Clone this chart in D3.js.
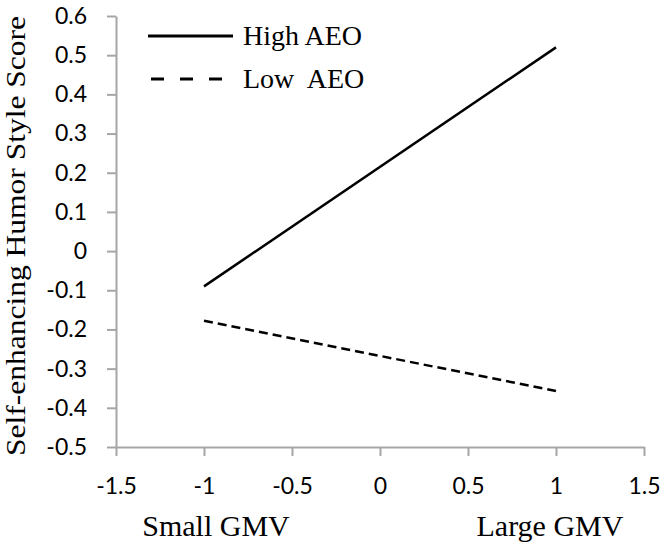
<!DOCTYPE html>
<html>
<head>
<meta charset="utf-8">
<script src="https://cdn.jsdelivr.net/npm/d3@7"></script>
<style>
html,body{margin:0;padding:0;background:#fff;}
svg{display:block;}
</style>
</head>
<body>
<script>
const xValues = [-1, 1];
const highAEO = [-0.09, 0.52];
const lowAEO = [-0.178, -0.357];
const seriesNames = ["High AEO", "Low  AEO"];
const xTicks = [-1.5, -1, -0.5, 0, 0.5, 1, 1.5];
const yTicks = [-0.5, -0.4, -0.3, -0.2, -0.1, 0, 0.1, 0.2, 0.3, 0.4, 0.5, 0.6];
const xCatValues = [-1, 1];
const xCatLabels = ["Small GMV", "Large GMV"];
const yTitle = "Self-enhancing Humor Style Score";

const W = 666, H = 550;
const svg = d3.select("body").append("svg").attr("width", W).attr("height", H);

const x = d3.scaleLinear().domain([-1.5, 1.5]).range([116, 644]);
const y = d3.scaleLinear().domain([-0.5, 0.6]).range([447, 16]);

const axisColor = "#a6a6a6";
const tickFont = "Lato, 'Open Sans', sans-serif";
const serif = "'Liberation Serif', 'DejaVu Serif', serif";
const fmt = d => String(Math.round(d * 10) / 10);

// X axis
const gx = svg.append("g").attr("transform", `translate(0,${y(-0.5)})`)
  .call(d3.axisBottom(x).tickValues(xTicks).tickSize(9).tickSizeOuter(0).tickPadding(22)
    .tickFormat(fmt));
gx.select(".domain").attr("stroke", axisColor).attr("stroke-width", 2);
gx.selectAll(".tick line").attr("stroke", axisColor).attr("stroke-width", 2);
gx.selectAll(".tick text").attr("font-family", tickFont).attr("font-size", 23).attr("fill", "#000");

// Y axis
const gy = svg.append("g").attr("transform", `translate(${x(-1.5)},0)`)
  .call(d3.axisLeft(y).tickValues(yTicks).tickSize(9).tickSizeOuter(0).tickPadding(20)
    .tickFormat(fmt));
gy.select(".domain").attr("stroke", axisColor).attr("stroke-width", 2);
gy.selectAll(".tick line").attr("stroke", axisColor).attr("stroke-width", 2);
gy.selectAll(".tick text").attr("font-family", tickFont).attr("font-size", 23).attr("fill", "#000");

// Category labels under x axis
const catShift = [12, -6];
svg.selectAll(".cat").data(xCatLabels).enter().append("text")
  .attr("x", (d, i) => x(xCatValues[i]) + catShift[i]).attr("y", 536)
  .attr("text-anchor", "middle")
  .attr("font-family", serif).attr("font-size", 30)
  .text(d => d);

// Y title
svg.append("text")
  .attr("transform", `translate(25,236) rotate(-90)`)
  .attr("text-anchor", "middle")
  .attr("font-family", serif).attr("font-size", 27)
  .attr("textLength", 440).attr("lengthAdjust", "spacingAndGlyphs")
  .text(yTitle);

const line = d3.line().x(d => x(d[0])).y(d => y(d[1]));
svg.append("path").datum(d3.zip(xValues, highAEO))
  .attr("d", line).attr("fill", "none").attr("stroke", "#000").attr("stroke-width", 2.5);
svg.append("path").datum(d3.zip(xValues, lowAEO))
  .attr("d", line).attr("fill", "none").attr("stroke", "#000").attr("stroke-width", 2.5)
  .attr("stroke-dasharray", "9,5");

// Legend
const legend = svg.append("g");
const legY = [36, 79];
legend.append("line").attr("x1", 148).attr("x2", 233).attr("y1", legY[0]).attr("y2", legY[0])
  .attr("stroke", "#000").attr("stroke-width", 3);
legend.append("line").attr("x1", 151).attr("x2", 233).attr("y1", legY[1]).attr("y2", legY[1])
  .attr("stroke", "#000").attr("stroke-width", 3).attr("stroke-dasharray", "13,16");
legend.selectAll("text").data(seriesNames).enter().append("text")
  .attr("x", 243).attr("y", (d, i) => legY[i] + 9)
  .attr("font-family", serif).attr("font-size", 28)
  .attr("xml:space", "preserve").style("white-space", "pre")
  .text(d => d);
</script>
</body>
</html>
